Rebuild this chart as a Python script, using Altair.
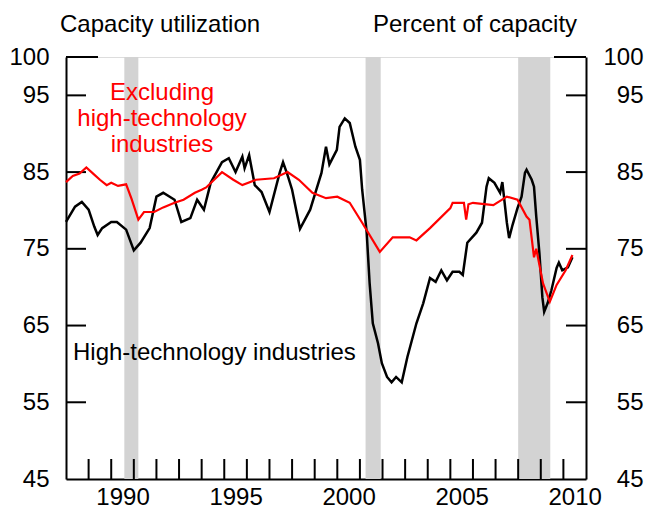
import altair as alt
import pandas as pd

# High-technology industries (black)
hi_x = [1988.0, 1988.4, 1988.7, 1989.0, 1989.25, 1989.4, 1989.6, 1990.0, 1990.25, 1990.66,
        1991.0, 1991.3, 1991.7, 1992.0, 1992.3, 1992.8, 1993.1, 1993.5, 1993.8, 1994.1,
        1994.4, 1994.9, 1995.2, 1995.5, 1995.8, 1995.9, 1996.1, 1996.35, 1996.65, 1997.0,
        1997.45, 1997.6, 1997.8, 1998.0, 1998.35, 1998.8, 1999.3, 1999.5, 1999.65, 1999.98,
        2000.1, 2000.33, 2000.55, 2000.8, 2001.0, 2001.1, 2001.3, 2001.43, 2001.57, 2001.8,
        2001.97, 2002.2, 2002.4, 2002.6, 2002.85, 2003.1, 2003.5, 2003.8, 2004.1, 2004.35,
        2004.6, 2004.85, 2005.1, 2005.4, 2005.55, 2005.75, 2006.15, 2006.4, 2006.6, 2006.7,
        2006.95, 2007.2, 2007.3, 2007.5, 2007.6, 2007.75, 2007.97, 2008.15, 2008.3, 2008.37,
        2008.6, 2008.7, 2008.8, 2008.94, 2009.07, 2009.15, 2009.3, 2009.47, 2009.7, 2009.8,
        2009.95, 2010.2, 2010.4]
hi_y = [78.5, 80.5, 81.1, 80.1, 77.9, 76.8, 77.7, 78.5, 78.5, 77.5,
        74.8, 75.8, 77.7, 81.8, 82.3, 81.4, 78.5, 79.0, 81.4, 80.1,
        83.6, 86.3, 86.8, 85.0, 87.0, 85.5, 87.2, 83.3, 82.4, 79.8,
        84.9, 86.3, 84.6, 82.7, 77.6, 80.1, 84.9, 88.3, 86.0, 87.9,
        90.9, 92.0, 91.4, 88.3, 86.6, 82.7, 77.1, 70.5, 65.3, 62.7,
        60.1, 58.3, 57.6, 58.3, 57.6, 60.9, 65.3, 67.9, 71.2, 70.7,
        72.2, 70.9, 72.0, 72.0, 71.6, 75.8, 77.1, 78.4, 83.1, 84.2,
        83.6, 82.3, 83.7, 78.4, 76.4, 78.1, 80.3, 81.8, 84.9, 85.3,
        84.0, 83.1, 79.2, 74.4, 68.7, 66.8, 67.9, 69.6, 72.5, 73.2,
        72.2, 72.6, 73.9]

# Excluding high-technology industries (red)
ex_x = [1988.0, 1988.3, 1988.6, 1988.9, 1989.2, 1989.5, 1989.8, 1990.0, 1990.3, 1990.66,
        1990.9, 1991.2, 1991.45, 1991.9, 1992.3, 1992.8, 1993.2, 1993.7, 1994.0, 1994.2,
        1994.9, 1995.4, 1995.8, 1996.4, 1997.2, 1997.8, 1998.3, 1998.9, 1999.5, 2000.0,
        2000.55, 2001.1, 2001.88, 2002.45, 2003.2, 2003.5, 2004.1, 2005.0, 2005.1, 2005.6,
        2005.7, 2005.8, 2006.0, 2006.9, 2007.5, 2007.97, 2008.37, 2008.5, 2008.7, 2008.8,
        2009.1, 2009.4, 2009.7, 2010.1, 2010.4]
ex_y = [83.7, 84.5, 84.8, 85.6, 84.8, 84.0, 83.3, 83.6, 83.2, 83.4,
        81.5, 78.8, 79.8, 79.8, 80.4, 81.0, 81.4, 82.3, 82.7, 83.0,
        85.0, 84.0, 83.3, 84.0, 84.2, 85.0, 84.0, 82.3, 81.6, 81.8,
        81.0, 78.4, 74.6, 76.5, 76.5, 76.1, 77.7, 80.3, 81.0, 81.0,
        78.8, 80.8, 81.0, 80.7, 81.8, 81.4, 79.2, 78.8, 73.9, 75.0,
        70.5, 68.1, 70.3, 72.2, 74.2]

rec_start = [1990.58, 2001.25, 2008.0]
rec_end = [1991.2, 2001.92, 2009.42]

y_label_vals = [45, 55, 65, 75, 85, 95, 100]
y_minor = [55, 65, 75, 85, 95]
y_major = [100]
x_tick_years = list(range(1989, 2011))
x_label_years = [1990, 1995, 2000, 2005, 2010]

FONT = "Liberation Sans"
W, H = 520, 422

xs = alt.Scale(domain=[1988, 2011], nice=False, zero=False)
ys = alt.Scale(domain=[45, 100], nice=False, zero=False)

xaxis = alt.Axis(values=[v + 0.5 for v in x_label_years], labelExpr="'' + floor(datum.value)",
                 tickSize=0, grid=False, domainColor="black", domainWidth=2,
                 labelFontSize=24, labelFont=FONT, labelColor="black", labelPadding=25,
                 labelBaseline="alphabetic", labelOverlap=False, labelFlush=False, title=None)
yleft = alt.Axis(values=y_label_vals, tickSize=0, labelPadding=17, grid=False,
                 domainColor="black", domainWidth=2, labelFontSize=24, labelFont=FONT,
                 labelColor="black", title=None, labelOverlap=False, labelFlush=False)
yright = alt.Axis(values=y_label_vals, orient="right", labelAlign="right", tickSize=0,
                  labelPadding=57, grid=False, domainColor="black", domainWidth=2,
                  labelFontSize=24, labelFont=FONT, labelColor="black", title=None,
                  labelOverlap=False, labelFlush=False)

hi_df = pd.DataFrame({"yr": hi_x, "v": hi_y})
ex_df = pd.DataFrame({"yr": ex_x, "v": ex_y})
rec_df = pd.DataFrame({"yr": rec_start, "yr2": rec_end})

def X(field="yr"):
    return alt.X(f"{field}:Q", scale=xs, axis=xaxis)

def Y(field="v", axis=yleft):
    return alt.Y(f"{field}:Q", scale=ys, axis=axis)

rec = alt.Chart(rec_df).mark_rect(color="#d3d3d3").encode(
    x=X(), x2="yr2:Q", y=alt.value(0), y2=alt.value(H))

hi_line = alt.Chart(hi_df).mark_line(color="black", strokeWidth=2.5).encode(x=X(), y=Y())
ex_line = alt.Chart(ex_df).mark_line(color="#ff0000", strokeWidth=2.2).encode(x=X(), y=Y())

xt = alt.Chart(pd.DataFrame({"yr": x_tick_years})).mark_rule(color="black", strokeWidth=2).encode(
    x=X(), y=alt.value(H), y2=alt.value(H - 20))

ly_minor = alt.Chart(pd.DataFrame({"v": y_minor})).mark_rule(color="black", strokeWidth=2).encode(
    y=Y(), x=alt.value(0), x2=alt.value(20))
ly_major = alt.Chart(pd.DataFrame({"v": y_major})).mark_rule(color="black", strokeWidth=2).encode(
    y=Y(), x=alt.value(0), x2=alt.value(32))

def txt(text, x, y, color="black", align="left"):
    return alt.Chart(pd.DataFrame({"t": [text]})).mark_text(
        font=FONT, fontSize=24, color=color, align=align, baseline="alphabetic",
        lineBreak="\n", lineHeight=26).encode(text="t:N", x=alt.value(x), y=alt.value(y))

t1 = txt("Capacity utilization", -6, -25)
t2 = txt("Percent of capacity", 307, -25)
t3 = txt("Excluding\nhigh-technology\nindustries", 96, 43, color="#ff0000", align="center")
t4 = txt("High-technology industries", 7, 303)

left_group = alt.layer(rec, xt, ly_minor, ly_major, hi_line, ex_line, t1, t2, t3, t4)

ry_minor = alt.Chart(pd.DataFrame({"v": y_minor})).mark_rule(color="black", strokeWidth=2).encode(
    y=Y(axis=yright), x=alt.value(W), x2=alt.value(W - 20))
ry_major = alt.Chart(pd.DataFrame({"v": y_major})).mark_rule(color="black", strokeWidth=2).encode(
    y=Y(axis=yright), x=alt.value(W), x2=alt.value(W - 32))
right_group = alt.layer(ry_minor, ry_major)

chart = alt.layer(left_group, right_group).resolve_scale(y="independent").properties(
    width=W, height=H,
    padding={"left": 58, "top": 49, "right": 64, "bottom": 32},
    autosize=alt.AutoSizeParams(type="none"),
).configure_view(stroke=None).configure(background="white")

chart.save("out.html", embed_options={"renderer": "svg", "actions": False})
